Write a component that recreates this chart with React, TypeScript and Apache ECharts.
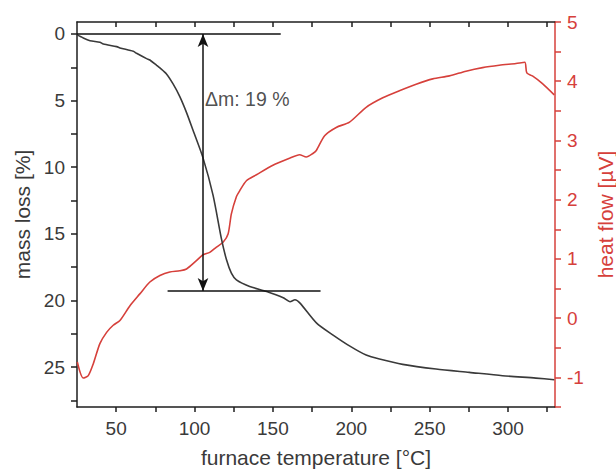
import React, { useEffect, useRef } from "react";
import * as echarts from "echarts";

// mass loss curve (furnace temperature °C -> mass loss %)
const massTemps = [25.0, 29.0, 33.3, 39.6, 41.8, 50.3, 52.4, 60.9, 63.0, 69.4, 71.5, 75.8, 77.9, 82.1, 86.3, 90.6, 94.9, 99.1, 105.4, 111.8, 117.2, 120.4, 123.5, 126.7, 135.2, 146.0, 156.6, 160.9, 164.1, 167.3, 177.9, 188.4, 199.4, 209.5, 218.0, 232.8, 254.1, 275.3, 296.5, 317.8, 329.5];
const massLoss = [0.05, 0.3, 0.5, 0.62, 0.75, 0.95, 1.05, 1.3, 1.45, 1.85, 1.95, 2.35, 2.55, 3.0, 3.75, 4.7, 5.9, 7.25, 9.3, 12.1, 15.4, 16.95, 17.95, 18.45, 18.95, 19.33, 19.8, 20.1, 19.95, 20.2, 21.7, 22.6, 23.45, 24.1, 24.4, 24.8, 25.15, 25.4, 25.65, 25.83, 25.95];

// heat flow curve (furnace temperature °C -> heat flow µV)
const heatTemps = [25.2, 29.0, 32.2, 35.4, 39.6, 43.9, 48.1, 52.4, 58.8, 65.1, 71.5, 77.9, 84.2, 90.6, 94.9, 101.2, 105.4, 109.7, 114.0, 118.2, 121.4, 123.5, 126.7, 128.8, 133.1, 139.5, 150.0, 160.7, 167.0, 171.3, 175.5, 177.7, 183.0, 190.4, 198.9, 209.5, 220.1, 230.7, 241.4, 252.0, 262.6, 273.2, 283.8, 294.4, 305.1, 310.7, 312.0, 315.6, 322.0, 329.5];
const heatFlow = [-0.74, -1.01, -0.97, -0.77, -0.43, -0.24, -0.12, -0.04, 0.21, 0.41, 0.61, 0.72, 0.78, 0.8, 0.83, 0.97, 1.07, 1.11, 1.2, 1.28, 1.42, 1.76, 2.05, 2.15, 2.32, 2.42, 2.58, 2.7, 2.76, 2.72, 2.78, 2.83, 3.08, 3.22, 3.31, 3.56, 3.72, 3.84, 3.95, 4.04, 4.09, 4.17, 4.23, 4.27, 4.3, 4.32, 4.14, 4.09, 3.96, 3.77];

// tick labels
const tempTicks = [50, 100, 150, 200, 250, 300];
const tempAllTicks = [50, 75, 100, 125, 150, 175, 200, 225, 250, 275, 300, 325];
const massTicks = [0, 5, 10, 15, 20, 25];
const massAllTicks = [0, 2.5, 5, 7.5, 10, 12.5, 15, 17.5, 20, 22.5, 25, 27.5];

// annotation values
const upperLineTemps = [25, 155];
const upperLineMass = 0;
const lowerLineTemps = [82.8, 180.4];
const lowerLineMass = 19.3;
const arrowTemp = 105.4;
const labelPoint = [105.4, 4.9];
const deltaText = "Δm: 19 %";

const FONT = "'Liberation Sans', Arial, sans-serif";
const GREY = "#3a3a3a";
const RED = "#d6403b";
const AXIS = "#1e1e1e";

export default function App() {
  const ref = useRef<HTMLDivElement>(null);
  useEffect(() => {
    if (!ref.current) return;
    const chart = echarts.init(ref.current, undefined, { renderer: "svg" });
    const massData = massTemps.map((t, i) => [t, massLoss[i]]);
    const heatData = heatTemps.map((t, i) => [t, heatFlow[i]]);
    chart.setOption({
      animation: false,
      backgroundColor: "#ffffff",
      grid: { left: 77, right: 61, top: 22, bottom: 63, containLabel: false, outerBoundsMode: "none" },
      xAxis: [
        {
          type: "value",
          position: "bottom",
          min: 25,
          max: 330,
          name: "furnace temperature [°C]",
          nameLocation: "middle",
          nameGap: 40,
          nameTextStyle: { fontFamily: FONT, fontSize: 21, color: GREY },
          axisLine: { show: true, onZero: false, lineStyle: { color: AXIS, width: 1.5 } },
          axisTick: { show: true, inside: false, length: 5, customValues: tempAllTicks, lineStyle: { color: AXIS, width: 1.5 } },
          axisLabel: { show: true, customValues: tempTicks, margin: 12, fontFamily: FONT, fontSize: 19, color: GREY },
          splitLine: { show: false },
        },
        {
          type: "value",
          position: "top",
          min: 25,
          max: 330,
          axisLine: { show: true, onZero: false, lineStyle: { color: AXIS, width: 1.5 } },
          axisTick: { show: true, inside: true, length: 5, customValues: tempAllTicks, lineStyle: { color: AXIS, width: 1.5 } },
          axisLabel: { show: false },
          splitLine: { show: false },
        },
      ],
      yAxis: [
        {
          type: "value",
          position: "left",
          inverse: true,
          min: -0.9,
          max: 28,
          name: "mass loss [%]",
          nameLocation: "middle",
          nameGap: 40,
          nameTextStyle: { fontFamily: FONT, fontSize: 21, color: GREY },
          axisLine: { show: true, onZero: false, lineStyle: { color: AXIS, width: 1.5 } },
          axisTick: { show: true, inside: false, length: 6, customValues: massAllTicks, lineStyle: { color: AXIS, width: 1.5 } },
          axisLabel: { show: true, customValues: massTicks, margin: 12, fontFamily: FONT, fontSize: 19, color: GREY },
          splitLine: { show: false },
        },
        {
          type: "value",
          position: "right",
          min: -1.5,
          max: 5,
          interval: 0.5,
          name: "heat flow [µV]",
          nameLocation: "middle",
          nameGap: 40,
          nameTextStyle: { fontFamily: FONT, fontSize: 21, color: RED },
          axisLine: { show: true, onZero: false, lineStyle: { color: RED, width: 1.5 } },
          axisTick: { show: true, inside: false, length: 6, lineStyle: { color: RED, width: 1.5 } },
          axisLabel: {
            show: true,
            margin: 12,
            fontFamily: FONT,
            fontSize: 19,
            color: RED,
            formatter: (v: number) => (Math.abs(v - Math.round(v)) < 1e-6 ? String(Math.round(v)) : ""),
          },
          splitLine: { show: false },
        },
      ],
      series: [
        {
          name: "heat flow",
          type: "line",
          xAxisIndex: 0,
          yAxisIndex: 1,
          data: heatData,
          showSymbol: false,
          smooth: 0.25,
          lineStyle: { color: RED, width: 1.6 },
          z: 2,
        },
        {
          name: "mass loss",
          type: "line",
          xAxisIndex: 0,
          yAxisIndex: 0,
          data: massData,
          showSymbol: false,
          smooth: 0.25,
          lineStyle: { color: GREY, width: 1.6 },
          z: 3,
        },
        {
          name: "upper line",
          type: "line",
          xAxisIndex: 0,
          yAxisIndex: 0,
          data: upperLineTemps.map((t) => [t, upperLineMass]),
          showSymbol: false,
          lineStyle: { color: "#111", width: 1.5 },
          z: 4,
        },
        {
          name: "lower line",
          type: "line",
          xAxisIndex: 0,
          yAxisIndex: 0,
          data: lowerLineTemps.map((t) => [t, lowerLineMass]),
          showSymbol: false,
          lineStyle: { color: "#111", width: 1.5 },
          z: 4,
          markLine: {
            silent: true,
            symbol: ["arrow", "arrow"],
            symbolSize: [8, 13],
            label: { show: false },
            lineStyle: { color: "#111", width: 1.5, type: "solid" },
            data: [[{ coord: [arrowTemp, upperLineMass] }, { coord: [arrowTemp, lowerLineMass] }]],
          },
        },
        {
          name: "delta label",
          type: "scatter",
          xAxisIndex: 0,
          yAxisIndex: 0,
          data: [labelPoint],
          symbolSize: 0,
          label: {
            show: true,
            position: "right",
            distance: 2,
            formatter: deltaText,
            fontFamily: FONT,
            fontSize: 19.5,
            color: "#222",
          },
          z: 5,
        },
      ],
    });
    return () => chart.dispose();
  }, []);
  return <div ref={ref} style={{ position: "fixed", left: 0, top: 0, width: 616, height: 470 }} />;
}
